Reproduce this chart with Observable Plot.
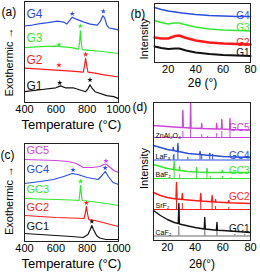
<!DOCTYPE html>
<html><head><meta charset="utf-8">
<script src="https://cdn.jsdelivr.net/npm/d3@7"></script>
<script src="https://cdn.jsdelivr.net/npm/@observablehq/plot@0.6"></script>
<style>
body{margin:0;background:#fff;}
#root{position:relative;width:260px;height:278px;overflow:hidden;background:#fff;}
#root svg{position:absolute;}
</style></head><body><div id="root"></div>
<script>
// ---------- DATA ----------
const TEMP_TICKS = [400, 600, 800, 1000];
const THETA_TICKS = [20, 40, 60, 80];
const C = {black: "#111111", red: "#ff1a1a", green: "#33e633", blue: "#2a4de0", magenta: "#cc44dd", gray: "#666666"};

// (a) DTA curves of glasses G1-G4: [temperature °C, signal (offset units)]
const G1_DTA = [[400,11],[500,13],[600,15],[630,17],[660,15],[710,15],[790,11],[805,14],[818,18],[830,15],[850,11],[925,7],[970,6],[1000,4]];
const G2_DTA = [[400,35],[500,34],[600,33],[700,32],[775,31],[783,37],[790,45],[797,38],[805,31],[850,30],[900,28.5],[1000,26]];
const G3_DTA = [[400,56],[500,57],[600,57.5],[700,56],[745,54.5],[752,62],[757,73],[762,62],[768,54],[800,53.5],[900,52],[1000,50]];
const G4_DTA = [[400,78],[450,79],[500,80.5],[550,81.5],[610,83],[650,82],[670,80],[690,84],[705,87],[730,85],[780,82],[820,80],[865,79],[885,83],[900,88.5],[912,86],[925,79],[940,76],[970,75],[1000,74]];
const STARS_A = [["G4",705,90.5],["G4",903,93],["G3",620,59],["G3",757,78],["G2",620,38],["G2",790,49],["G1",625,20],["G1",818,23]];
const LABELS_A = [["G4",90],["G3",66],["G2",43],["G1",17]];

// (b) XRD of glasses: [2θ, intensity (offset units)]
const G1_XRD = [[10,16],[15,14.5],[20,13.5],[25,14],[28,14],[33,12],[40,10],[50,8.5],[60,7.5],[70,7],[80,6.5]];
const G2_XRD = [[10,25],[15,24],[20,24],[25,26.5],[28,27],[32,25],[40,22],[50,20],[60,19],[70,18.5],[80,18]];
const G3_XRD = [[10,42],[15,40],[20,38.5],[24,39.5],[28,39.5],[32,38],[40,35.5],[50,33.5],[60,32.5],[70,32],[80,31.5]];
const G4_XRD = [[10,55],[15,53],[20,51.5],[30,49.5],[40,48],[50,47],[60,46.5],[70,46],[80,46]];
const LABELS_B = [["G4",47],["G3",35],["G2",19.5],["G1",10]];

// (c) DTA curves of glass-ceramics GC1-GC5
const GC1_DTA = [[400,8],[500,7],[600,6],[700,5],[775,4],[805,7],[820,12],[830,16],[840,12],[860,6],[880,3.5],[920,2],[1000,2]];
const GC2_DTA = [[400,26],[500,25],[600,24],[700,23.5],[780,23],[788,28],[795,35],[802,28],[810,22],[850,21],[900,19],[1000,15]];
const GC3_DTA = [[400,43],[500,42.5],[600,42],[700,41.5],[748,41],[753,48],[758,56],[763,48],[768,41],[800,40.5],[900,38.5],[1000,36]];
const GC4_DTA = [[400,58],[450,59],[500,60],[585,62],[650,65],[705,68],[740,67],[800,64],[870,62],[895,66],[915,70],[935,65],[965,59],[1000,57]];
const GC5_DTA = [[400,82],[500,81.5],[600,81],[680,80],[730,78],[775,74],[830,74],[885,75],[905,77],[920,77.5],[940,75],[970,71],[1000,69]];
const STARS_C = [["GC5",920,80.5],["GC4",710,71.5],["GC4",915,73.5],["GC3",758,60],["GC2",795,38.5],["GC1",830,20]];
const LABELS_C = [["GC5",91],["GC4",72],["GC3",52],["GC2",34],["GC1",15]];

// (d) XRD of glass-ceramics with reference phases
const GC5_XRD = [[10,115],[20,114],[30,113],[30.9,113],[31.2,130],[31.5,113],[36.5,112.5],[36.8,137],[37.1,112.5],[44.5,112],[44.8,117],[45.1,112],[55.3,111.5],[55.6,117],[55.9,111.5],[59,111.5],[59.3,121],[59.6,111.5],[64.9,111],[65.2,122],[65.5,111],[80,110.5]];
const GC4_XRD = [[10,95],[15,93],[20,91],[24,90],[24.3,93],[24.6,90],[27.3,89],[27.6,97],[27.9,89],[30,88.5],[35,87],[43.3,86],[43.6,89],[43.9,86],[50.3,85],[50.6,87],[50.9,85],[52.4,85],[52.7,86],[53,85],[60,84],[70,83.5],[80,83]];
const GC3_XRD = [[10,76],[15,74],[20,72],[24.6,71],[24.9,79],[25.2,71],[28.5,70],[28.8,74],[29.1,70],[35,69],[40.8,68.5],[41.1,73],[41.4,68.5],[48.3,68],[48.6,72],[48.9,68],[59.5,68],[59.8,70],[60.1,68],[70,68],[80,68]];
const GC2_XRD = [[10,48],[15,45],[20,43],[26.2,41.5],[26.6,58],[27,41.5],[30.4,41],[30.8,47],[31.2,41],[35,40.5],[43.7,39.5],[44.1,47],[44.5,39.5],[51.9,38.7],[52.3,45],[52.7,38.7],[54.5,38.5],[54.8,41],[55.1,38.5],[64,37.8],[64.3,40],[64.6,37.8],[70,37.5],[80,37]];
const GC1_XRD = [[10,30],[15,25],[20,21],[25,18],[27.9,17],[28.3,37],[28.7,16.5],[35,14.5],[40,13],[46.6,11.5],[47,23],[47.4,11.5],[55.4,10.2],[55.8,18],[56.2,10.2],[60,10],[70,9],[80,8]];
// reference phase sticks: baseline and [2θ, top]
const ZNAL2O4_BASE = 103, ZNAL2O4 = [[31.2,109],[36.8,112],[44.8,106],[49.1,104],[55.6,107],[59.3,109],[65.2,110]];
const LAF3_BASE = 80.5, LAF3 = [[24.3,85],[24.8,86],[27.6,94],[34.8,83],[43.6,87],[44.8,85],[50.6,85],[52.7,84]];
const BAF2_BASE = 62, BAF2 = [[24.9,74],[28.8,66],[41.1,68],[48.6,67],[50.9,64],[59.8,64],[66,63]];
const SRF2_BASE = 31, SRF2 = [[26.6,44],[30.8,37],[44.1,40],[52.3,38],[54.8,34],[64.3,33]];
const CAF2_BASE = 4.5, CAF2 = [[28.3,14],[47,11],[55.8,9],[68.7,6],[75.9,6]];
const LABELS_D = [["GC5",112.5],["GC4",85],["GC3",70],["GC2",44],["GC1",12]];
const PHASE_LABELS = [["ZnAl₂O₄",105],["LaF₃",84],["BaF₂",66],["SrF₂",35],["CaF₂",8]];

// ---------- DRAWING ----------
const FONT = '"Liberation Sans", Arial, Helvetica, sans-serif';
const root = document.getElementById("root");
const colorOf = {G1:C.black,G2:C.red,G3:C.green,G4:C.blue,GC1:C.black,GC2:C.red,GC3:C.green,GC4:C.blue,GC5:C.magenta};

function panel(cfg) {
  const svg = Plot.plot({
    width: cfg.w, height: cfg.h,
    marginLeft: cfg.ml, marginRight: cfg.mr, marginTop: cfg.mt, marginBottom: cfg.mb,
    x: {domain: cfg.xd},
    y: {domain: cfg.yd, axis: null},
    style: {fontFamily: FONT, fontSize: "11px", background: "transparent", overflow: "visible", color: "#000"},
    marks: [
      ...cfg.marks,
      Plot.frame({stroke: "#222", strokeWidth: 1}),
      Plot.axisX({ticks: cfg.ticks, tickSize: 0, tickPadding: cfg.tickPad, tickFormat: d => String(d), label: null, fontSize: cfg.tickFs}),
      Plot.text([cfg.xTitle], {text: d => d, frameAnchor: "bottom", dy: cfg.titleDy, fontSize: cfg.titleFs, fill: "#000"}),
      Plot.text([cfg.yTitle], {text: d => d, frameAnchor: "left", textAnchor: "middle", dx: cfg.yDx, dy: cfg.yDy, rotate: -90, fontSize: cfg.yFs, fill: "#000"}),
      Plot.text([cfg.tag], {text: d => d, frameAnchor: "top-left", dx: cfg.tagDx, dy: cfg.tagDy, textAnchor: "start", fontSize: 12, fill: "#000"})
    ]
  });
  svg.style.left = cfg.left + "px";
  svg.style.top = cfg.top + "px";
  root.appendChild(svg);
}

function curves(series, width) {
  return series.map(([name, data]) => Plot.line(data, {x: d => d[0], y: d => d[1], stroke: colorOf[name], strokeWidth: width, curve: "linear"}));
}

// (a)
panel({
  left: 0, top: 0, w: 130, h: 140, ml: 24, mr: 12, mt: 1, mb: 38,
  xd: [400, 1000], yd: [0, 103], ticks: TEMP_TICKS, tickPad: 3, tickFs: 11,
  xTitle: "Temperature (°C)", titleDy: 26, titleFs: 13,
  yTitle: "Exothermic →", yDx: -15, yDy: 10, yFs: 11,
  tag: "(a)", tagDx: -23, tagDy: 6,
  marks: [
    ...curves([["G1",G1_DTA],["G2",G2_DTA],["G3",G3_DTA],["G4",G4_DTA]], 1.2),
    Plot.dot(STARS_A, {x: d => d[1], y: d => d[2], symbol: "star", r: 1.7, fill: d => colorOf[d[0]], stroke: "none"}),
    Plot.text(LABELS_A, {x: 400, y: d => d[1], text: d => d[0], fill: d => colorOf[d[0]], textAnchor: "start", dx: 2, fontSize: 12})
  ]
});

// (b)
panel({
  left: 130, top: 0, w: 130, h: 95, ml: 24, mr: 10, mt: 3, mb: 33,
  xd: [10, 80], yd: [0, 59], ticks: THETA_TICKS, tickPad: 3, tickFs: 11,
  xTitle: "2θ (°)", titleDy: 24, titleFs: 12,
  yTitle: "Intensity", yDx: -10, yDy: 6, yFs: 11,
  tag: "(b)", tagDx: -24, tagDy: 6,
  marks: [
    ...curves([["G1",G1_XRD]], 2),
    ...curves([["G2",G2_XRD]], 2.5),
    ...curves([["G3",G3_XRD],["G4",G4_XRD]], 1.6),
    Plot.text(LABELS_B, {x: 80, y: d => d[1], text: d => d[0], fill: d => colorOf[d[0]], textAnchor: "end", dx: -1, fontSize: 10})
  ]
});

// (c)
panel({
  left: 0, top: 140, w: 130, h: 138, ml: 24, mr: 12, mt: 3, mb: 37,
  xd: [400, 1000], yd: [0, 98], ticks: TEMP_TICKS, tickPad: 3, tickFs: 11,
  xTitle: "Temperature (°C)", titleDy: 26, titleFs: 13,
  yTitle: "Exothermic →", yDx: -15, yDy: 8, yFs: 11,
  tag: "(c)", tagDx: -24, tagDy: 7,
  marks: [
    ...curves([["GC1",GC1_DTA],["GC2",GC2_DTA],["GC3",GC3_DTA],["GC4",GC4_DTA],["GC5",GC5_DTA]], 1.2),
    Plot.dot(STARS_C, {x: d => d[1], y: d => d[2], symbol: "star", r: 1.7, fill: d => colorOf[d[0]], stroke: "none"}),
    Plot.text(LABELS_C, {x: 400, y: d => d[1], text: d => d[0], fill: d => colorOf[d[0]], textAnchor: "start", dx: 2, fontSize: 11})
  ]
});

// (d)
const phases = [[ZNAL2O4_BASE, ZNAL2O4, C.magenta],[LAF3_BASE, LAF3, C.blue],[BAF2_BASE, BAF2, C.green],[SRF2_BASE, SRF2, C.red],[CAF2_BASE, CAF2, C.gray]];
panel({
  left: 130, top: 95, w: 130, h: 183, ml: 23, mr: 10, mt: 7, mb: 38,
  xd: [10, 80], yd: [0, 138], ticks: THETA_TICKS, tickPad: 3, tickFs: 11,
  xTitle: "2θ(°)", titleDy: 27, titleFs: 12,
  yTitle: "Intensity", yDx: -9, yDy: -3, yFs: 11,
  tag: "(d)", tagDx: -21, tagDy: 0,
  marks: [
    ...phases.flatMap(([base, sticks, col]) => [
      Plot.ruleY([base], {y: d => d, stroke: col, strokeWidth: 1}),
      Plot.ruleX(sticks, {x: d => d[0], y1: base, y2: d => d[1], stroke: col, strokeWidth: 1})
    ]),
    ...curves([["GC1",GC1_XRD],["GC2",GC2_XRD],["GC3",GC3_XRD],["GC4",GC4_XRD],["GC5",GC5_XRD]], 1.4),
    Plot.text(LABELS_D, {x: 80, y: d => d[1], text: d => d[0], fill: d => colorOf[d[0]], textAnchor: "end", dx: -1, fontSize: 10}),
    Plot.text(PHASE_LABELS, {x: 10, y: d => d[1], text: d => d[0], fill: "#000", textAnchor: "start", dx: 2, fontSize: 7})
  ]
});
</script></body></html>
